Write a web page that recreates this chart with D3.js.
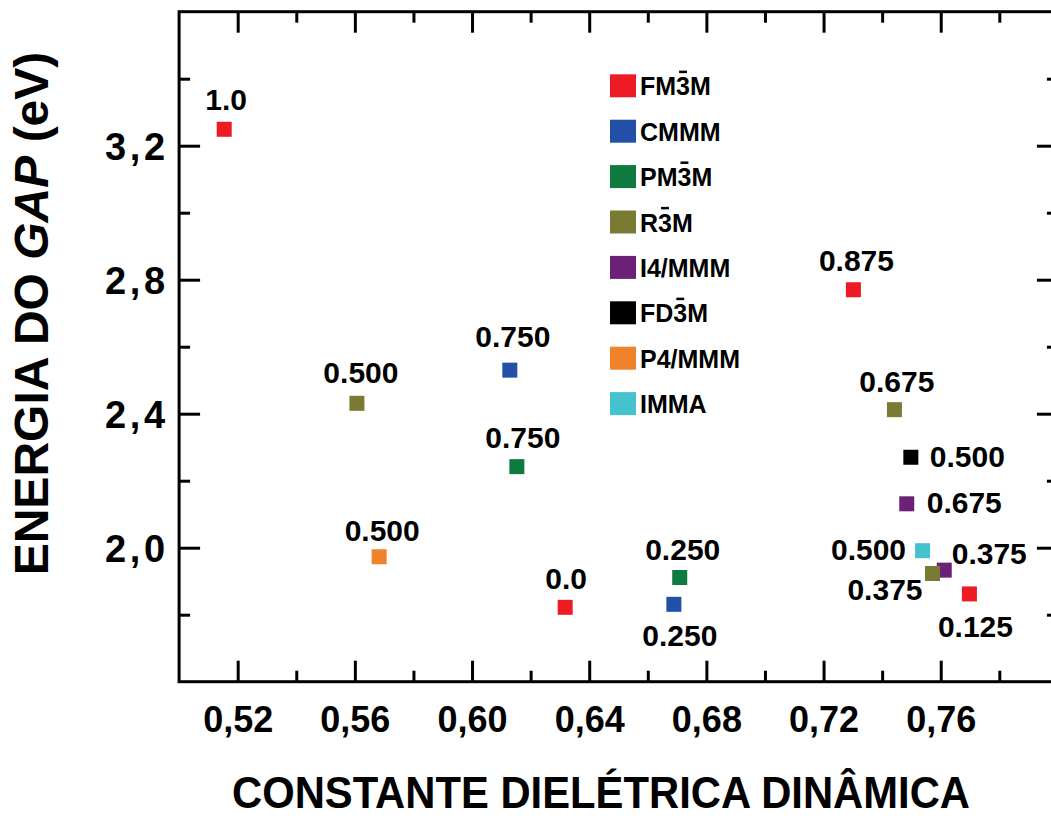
<!DOCTYPE html>
<html><head><meta charset="utf-8">
<script src="https://cdn.jsdelivr.net/npm/d3@7"></script>
<style>
html,body{margin:0;padding:0;background:#fff;}
svg{display:block;}
text{font-family:"Liberation Sans",Arial,Helvetica,sans-serif;font-weight:bold;fill:#000;}
</style>
</head><body>
<svg id="chart" width="1051" height="818"></svg>
<script>
// ---- data ----
const structures = ["FM3M","CMMM","PM3M","R3M","I4/MMM","FD3M","P4/MMM","IMMA"];
const barredChar = [2,-1,2,1,-1,2,-1,-1]; // index of the digit carrying an overbar (-1 = none)
const colors = ["#ED1C24","#2150A6","#0E7A40","#7B7A34","#6A2277","#000000","#F0822A","#45C2CE"];

const pointStructure = ["FM3M","FM3M","FM3M","FM3M","CMMM","CMMM","PM3M","PM3M","I4/MMM","I4/MMM","R3M","R3M","R3M","FD3M","P4/MMM","IMMA"];
const dielectric    = [0.5154,0.7302,0.6318,0.7698,0.6129,0.6689,0.6153,0.6709,0.7484,0.7612,0.5607,0.7442,0.7572,0.7498,0.5683,0.7538];
const gapEnergy     = [3.249,2.770,1.822,1.862,2.530,1.831,2.242,1.911,2.131,1.933,2.431,2.412,1.923,2.270,1.973,1.991];
const pointLabels   = ["1.0","0.875","0.0","0.125","0.750","0.250","0.750","0.250","0.675","0.375","0.500","0.675","0.375","0.500","0.500","0.500"];

const xTicks = [0.52,0.56,0.60,0.64,0.68,0.72,0.76];
const xMinor = [0.54,0.58,0.62,0.66,0.70,0.74,0.78];
const yTicks = [2.0,2.4,2.8,3.2];
const yMinor = [1.8,2.2,2.6,3.0,3.4];

// ---- layout (pixels) ----
const labelLayout = [
  {a:"middle",dx:2,dy:-19},
  {a:"middle",dx:3,dy:-19},
  {a:"middle",dx:1,dy:-18},
  {a:"middle",dx:6,dy:43},
  {a:"middle",dx:3,dy:-22.7},
  {a:"middle",dx:6,dy:41.5},
  {a:"middle",dx:6,dy:-19},
  {a:"middle",dx:3,dy:-17.5},
  {a:"start",dx:20,dy:9.6},
  {a:"start",dx:7.5,dy:-6},
  {a:"middle",dx:4,dy:-20},
  {a:"middle",dx:2.4,dy:-18},
  {a:"end",dx:-10,dy:26.5},
  {a:"start",dx:19,dy:9.5},
  {a:"middle",dx:3,dy:-16},
  {a:"end",dx:-16.5,dy:9}
];

const L = 179.1, R = 1057.9, T = 11.7, B = 681.7;
const svg = d3.select("#chart");
const x = d3.scaleLinear().domain([0.50,0.80]).range([L,R]);
const y = d3.scaleLinear().domain([1.6,3.6]).range([B,T]);
const color = d3.scaleOrdinal().domain(structures).range(colors);
const fmt = v => d3.format(".2f")(v).replace(".",",");
const fmtY = v => d3.format(".1f")(v).replace(".",",");

function styleAxis(g){
  g.select(".domain").remove();
  g.selectAll(".tick line").attr("stroke","#000").attr("stroke-width",3);
}
// bottom
svg.append("g").attr("transform",`translate(0,${B})`)
  .call(d3.axisBottom(x).tickValues(xTicks).tickSize(-21).tickPadding(0).tickFormat(fmt))
  .call(styleAxis)
  .call(g=>g.selectAll(".tick text").attr("font-size",36).attr("dy",null).attr("y",50)
        .style("font-family",'"Liberation Sans",Arial,sans-serif').style("font-weight","bold"));
svg.append("g").attr("transform",`translate(0,${B})`)
  .call(d3.axisBottom(x).tickValues(xMinor).tickSize(-11).tickFormat(""))
  .call(styleAxis);
// top
svg.append("g").attr("transform",`translate(0,${T})`)
  .call(d3.axisTop(x).tickValues(xTicks).tickSize(-21).tickFormat(""))
  .call(styleAxis);
svg.append("g").attr("transform",`translate(0,${T})`)
  .call(d3.axisTop(x).tickValues(xMinor).tickSize(-11).tickFormat(""))
  .call(styleAxis);
// left
svg.append("g").attr("transform",`translate(${L},0)`)
  .call(d3.axisLeft(y).tickValues(yTicks).tickSize(-21).tickPadding(14).tickFormat(fmtY))
  .call(styleAxis)
  .call(g=>g.selectAll(".tick text").attr("font-size",38).attr("x",-14).attr("dy","0.36em")
        .attr("textLength",60).attr("lengthAdjust","spacing")
        .style("font-family",'"Liberation Sans",Arial,sans-serif').style("font-weight","bold"));
svg.append("g").attr("transform",`translate(${L},0)`)
  .call(d3.axisLeft(y).tickValues(yMinor).tickSize(-11).tickFormat(""))
  .call(styleAxis);
// right
svg.append("g").attr("transform",`translate(${R},0)`)
  .call(d3.axisRight(y).tickValues(yTicks).tickSize(-21).tickFormat(""))
  .call(styleAxis);
svg.append("g").attr("transform",`translate(${R},0)`)
  .call(d3.axisRight(y).tickValues(yMinor).tickSize(-11).tickFormat(""))
  .call(styleAxis);

// frame
svg.append("rect").attr("x",L).attr("y",T).attr("width",R-L).attr("height",B-T)
  .attr("fill","none").attr("stroke","#000").attr("stroke-width",3);

// points
const pts = pointStructure.map((s,i)=>({s, x:dielectric[i], y:gapEnergy[i], label:pointLabels[i], lay:labelLayout[i]}));
const S = 15;
svg.append("g").selectAll("rect").data(pts).join("rect")
  .attr("x",d=>x(d.x)-S/2).attr("y",d=>y(d.y)-S/2)
  .attr("width",S).attr("height",S).attr("fill",d=>color(d.s));
svg.append("g").selectAll("text").data(pts).join("text")
  .attr("x",d=>x(d.x)+d.lay.dx).attr("y",d=>y(d.y)+d.lay.dy)
  .attr("text-anchor",d=>d.lay.a).attr("font-size",30)
  .text(d=>d.label);

// legend
const leg = svg.append("g");
structures.forEach((s,i)=>{
  const cy = 85.8 + i*45.4;
  leg.append("rect").attr("x",610).attr("y",cy-11.5).attr("width",26).attr("height",23).attr("fill",color(s));
  const t = leg.append("text").attr("x",640).attr("y",cy+9.5).attr("font-size",25).text(s);
  if (barredChar[i] >= 0) {
    const ext = t.node().getExtentOfChar(barredChar[i]);
    const top = cy + 9.5 - 0.716*25 - 5.5;
    leg.append("line").attr("x1",ext.x+3).attr("x2",ext.x+ext.width-3)
      .attr("y1",top).attr("y2",top).attr("stroke","#000").attr("stroke-width",2.5);
  }
});

// axis titles
svg.append("text").attr("x",601).attr("y",808).attr("text-anchor","middle")
  .attr("font-size",44).attr("textLength",738).attr("lengthAdjust","spacingAndGlyphs")
  .text("CONSTANTE DIELÉTRICA DINÂMICA");
const yt = svg.append("text").attr("transform","translate(48,313.5) rotate(-90)")
  .attr("text-anchor","middle").attr("font-size",48);
yt.append("tspan").text("ENERGIA DO ");
yt.append("tspan").attr("font-style","italic").text("GAP");
yt.append("tspan").text(" (eV)");
</script>
</body></html>
